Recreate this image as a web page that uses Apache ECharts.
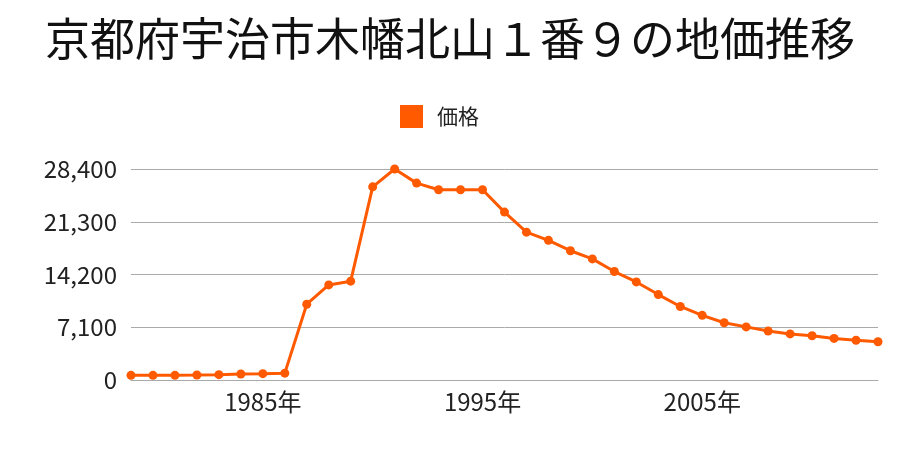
<!DOCTYPE html>
<html><head><meta charset="utf-8">
<script src="https://cdn.jsdelivr.net/npm/echarts@6/dist/echarts.min.js"></script>
<style>html,body{margin:0;padding:0;background:#fff}#c{width:900px;height:450px}</style>
</head><body><div id="c"></div>
<script>
var titleText = '京都府宇治市木幡北山１番９の地価推移';
var seriesName = '価格';
var years = [];
for (var y = 1979; y <= 2013; y++) years.push(String(y));
var prices = [630, 630, 630, 670, 720, 800, 850, 920,
  10200, 12800, 13300, 26000, 28400, 26500, 25600, 25600, 25600,
  22600, 19900, 18800, 17400, 16300, 14600, 13200, 11500, 9900,
  8700, 7700, 7150, 6600, 6200, 5950, 5600, 5350, 5150];
var yTicks = [0, 7100, 14200, 21300, 28400];
var labelYears = ['1985', '1995', '2005'];

var font = '"Noto Sans CJK JP", "Noto Sans", sans-serif';
var chart = echarts.init(document.getElementById('c'));
chart.setOption({
  animation: false,
  title: { text: titleText, left: 'center', top: 11,
    textStyle: { fontFamily: font, fontSize: 45, fontWeight: 'normal', color: '#111' } },
  legend: { data: [seriesName], top: 100, left: 395, icon: 'rect', itemWidth: 23, itemHeight: 23,
    textStyle: { fontFamily: font, fontSize: 21, color: '#222', padding: [0, 0, 0, 9] } },
  grid: { left: 131, right: 22, top: 169, bottom: 70 },
  xAxis: { type: 'category', data: years, boundaryGap: false,
    axisLine: { lineStyle: { color: '#aaa' } }, axisTick: { show: false },
    axisLabel: { fontFamily: font, fontSize: 24, color: '#222', margin: 10,
      interval: function (i, v) { return labelYears.indexOf(v) >= 0; },
      formatter: function (v) { return v + '年'; } } },
  yAxis: { type: 'value', min: yTicks[0], max: yTicks[yTicks.length - 1], interval: yTicks[1] - yTicks[0],
    axisLine: { show: false }, axisTick: { show: false },
    splitLine: { lineStyle: { color: '#aaa', width: 1 } },
    axisLabel: { fontFamily: font, fontSize: 24, color: '#222', margin: 14,
      formatter: function (v) { return v.toLocaleString('en-US'); } } },
  series: [{ name: seriesName, type: 'line', data: prices, color: '#ff5a00',
    symbol: 'circle', symbolSize: 9, lineStyle: { width: 3 } }]
});
</script></body></html>
